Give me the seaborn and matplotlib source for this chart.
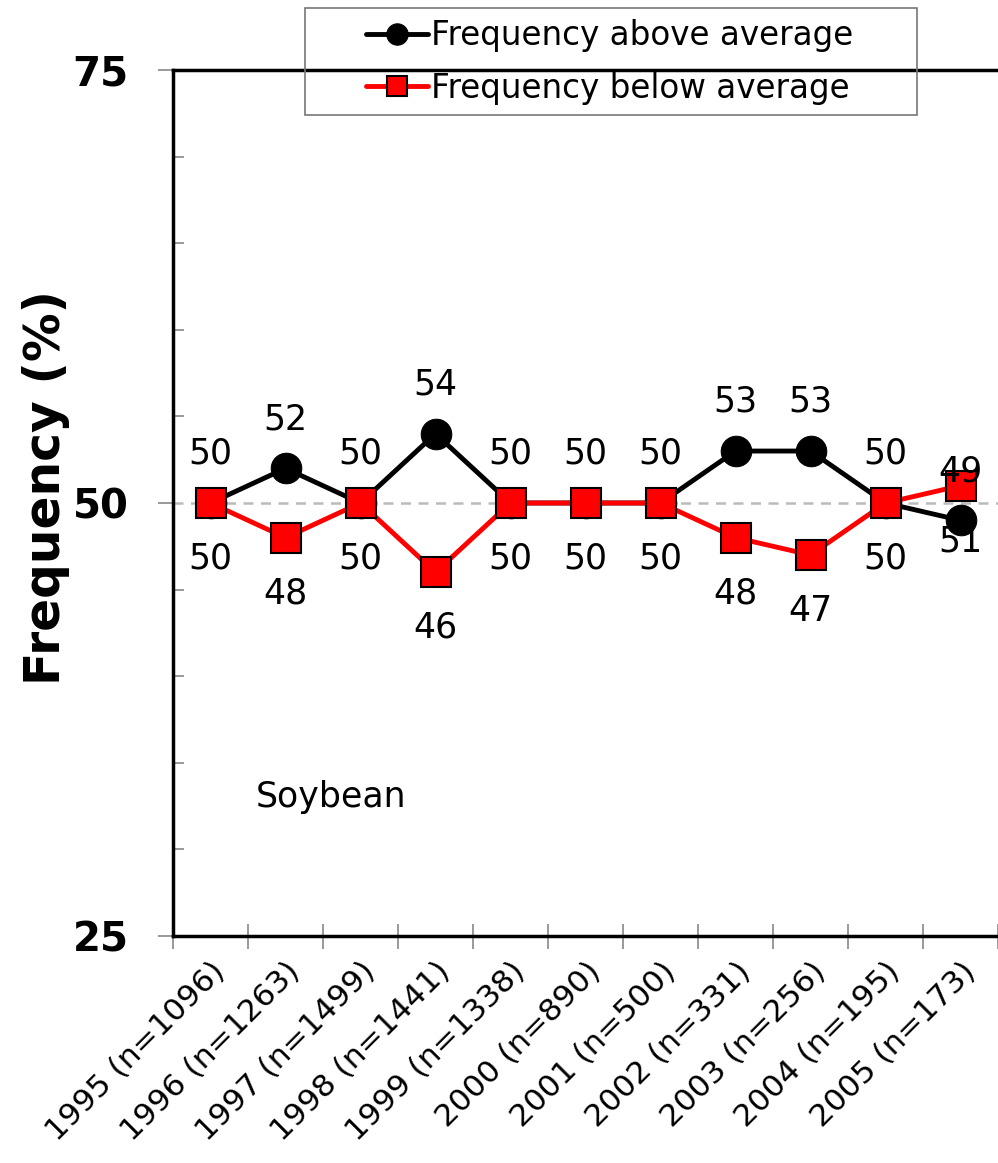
import numpy as np
import pandas as pd
import matplotlib
matplotlib.use("Agg")
import matplotlib.pyplot as plt
from matplotlib.ticker import FixedLocator
from matplotlib.patches import Rectangle
import seaborn as sns

categories = ["1995 (n=1096)", "1996 (n=1263)", "1997 (n=1499)", "1998 (n=1441)",
              "1999 (n=1338)", "2000 (n=890)", "2001 (n=500)", "2002 (n=331)",
              "2003 (n=256)", "2004 (n=195)", "2005 (n=173)"]
above = [50, 52, 50, 54, 50, 50, 50, 53, 53, 50, 49]
below = [50, 48, 50, 46, 50, 50, 50, 48, 47, 50, 51]
series_names = ["Frequency above average", "Frequency below average"]
yticks_major = [25, 50, 75]
crop_label = "Soybean"

sns.set_theme(style="white")
plt.rcParams['font.family'] = ['DejaVu Sans']
plt.rcParams['text.color'] = 'black'
plt.rcParams['axes.labelcolor'] = 'black'
plt.rcParams['xtick.color'] = 'black'
plt.rcParams['ytick.color'] = 'black'

fig = plt.figure(figsize=(9.98, 11.63), dpi=100)
ax = fig.add_axes([173/998, 1 - 936/1163, (998 - 173)/998, (936 - 70)/1163])

idx = np.arange(len(categories))
df = pd.DataFrame({"idx": np.concatenate([idx, idx]),
                   "value": above + below,
                   "series": [series_names[0]] * len(idx) + [series_names[1]] * len(idx)})

ax.axhline(50, color="#bbbbbb", lw=1.8, ls=(0, (4, 3)), zorder=1)

sns.lineplot(data=df[df.series == series_names[0]], x="idx", y="value", ax=ax,
             color="black", lw=3.5, marker="o", markersize=22, markeredgecolor="black",
             markerfacecolor="black", label=series_names[0], zorder=3)
sns.lineplot(data=df[df.series == series_names[1]], x="idx", y="value", ax=ax,
             color="red", lw=3.5, marker="s", markersize=21, markeredgecolor="black",
             markeredgewidth=1.5, markerfacecolor="red", label=series_names[1], zorder=4)

for i, v in enumerate(above):
    ax.annotate(str(v), (i, v), xytext=(0, 35.5), textcoords="offset points",
                ha="center", va="center", fontsize=25, color="black", zorder=5)
for i, v in enumerate(below):
    ax.annotate(str(v), (i, v), xytext=(0, -40), textcoords="offset points",
                ha="center", va="center", fontsize=25, color="black", zorder=5)

ax.text(0.6, 33, crop_label, fontsize=25, ha="left", va="center")

ax.set_xlim(-0.5, len(categories) - 0.5)
ax.set_ylim(25, 75)
ax.set_yticks(yticks_major)
ax.set_yticklabels([str(t) for t in yticks_major], fontsize=29, fontweight="bold")
ax.yaxis.set_minor_locator(FixedLocator(np.arange(30, 75, 5)))
ax.tick_params(axis="y", which="major", direction="out", length=11, width=1.2,
               color="#888888", left=True, pad=21, labelcolor="black")
ax.tick_params(axis="y", which="minor", direction="in", length=8, width=1.2,
               color="#888888", left=True)

ax.set_xticks(idx)
ax.set_xticklabels(categories, rotation=45, ha="right", rotation_mode="anchor",
                   fontsize=22.5)
ax.tick_params(axis="x", which="major", length=0, pad=15, labelcolor="black")
ax.xaxis.set_minor_locator(FixedLocator(np.arange(-0.5, len(categories), 1)))
ax.tick_params(axis="x", which="minor", direction="inout", length=18, width=1.2,
               color="#888888", bottom=True)

ax.set_xlabel("")
ax.set_ylabel("Frequency (%)", fontsize=35, fontweight="bold")
ax.yaxis.set_label_coords(-0.125, 0.518)

for s in ["left", "bottom", "top"]:
    ax.spines[s].set_color("black")
    ax.spines[s].set_linewidth(2.5)
ax.spines["right"].set_visible(False)

# legend box (drawn as in the reference, larger than its content)
fig.patches.append(Rectangle((305/998, 1 - 115/1163), (917 - 305)/998, (115 - 8)/1163,
                             transform=fig.transFigure, fill=False,
                             edgecolor="#777777", lw=1.2, zorder=10))
leg = ax.legend(loc="upper left", bbox_to_anchor=(366/998, 1 - 19/1163),
                bbox_transform=fig.transFigure, fontsize=23.5, frameon=False,
                handlelength=1.9, handletextpad=0.1, borderpad=0.0,
                borderaxespad=0.0, labelspacing=0.6, markerscale=0.7)

fig.savefig("out.png", dpi=100)
